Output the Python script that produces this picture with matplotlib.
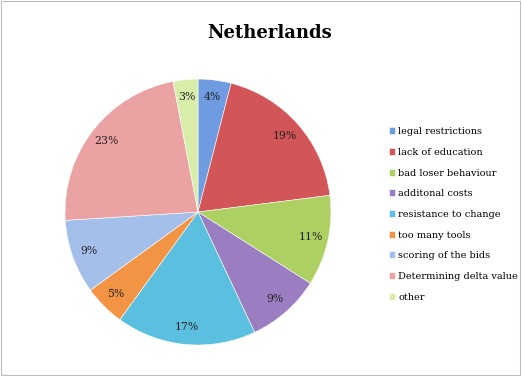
import matplotlib.pyplot as plt
from matplotlib.patches import Rectangle

# Data
labels = ['legal restrictions', 'lack of education', 'bad loser behaviour',
          'additonal costs', 'resistance to change', 'too many tools',
          'scoring of the bids', 'Determining delta value', 'other']
shares = [4, 19, 11, 9, 17, 5, 9, 23, 3]
colors = ['#6f9be0', '#d25657', '#acd062', '#9b7ec2', '#5bbfe0',
          '#f39444', '#a3bfea', '#eba2a2', '#d9edaa']

plt.rcParams['font.family'] = ['DejaVu Serif']

fig = plt.figure(figsize=(5.22, 3.76), dpi=100)
fig.patches.append(Rectangle((0.002, 0.003), 0.994, 0.994, transform=fig.transFigure,
                             fill=False, edgecolor='#bdbdbd', linewidth=0.8))

ax = fig.add_axes([0.1245, 0.0824, 0.5096, 0.7074])
wedges, texts, autotexts = ax.pie(shares, colors=colors, startangle=90, counterclock=False,
                                  autopct='%1.0f%%', pctdistance=0.87,
                                  wedgeprops={'linewidth': 0.4, 'edgecolor': 'white'},
                                  textprops={'fontsize': 7.8, 'color': '#222222'})
ax.set_xlim(-1, 1)
ax.set_ylim(-1, 1)
ax.set_aspect('equal')

fig.text(0.517, 0.912, 'Netherlands', ha='center', va='center',
         fontsize=13, fontweight='bold')

fig.legend(wedges, labels, loc='upper left', bbox_to_anchor=(0.737, 0.672),
           frameon=False, fontsize=7.0, handlelength=0.7, handleheight=0.7,
           handletextpad=0.3, labelspacing=1.2, borderaxespad=0)

plt.savefig('out.png', dpi=100)
